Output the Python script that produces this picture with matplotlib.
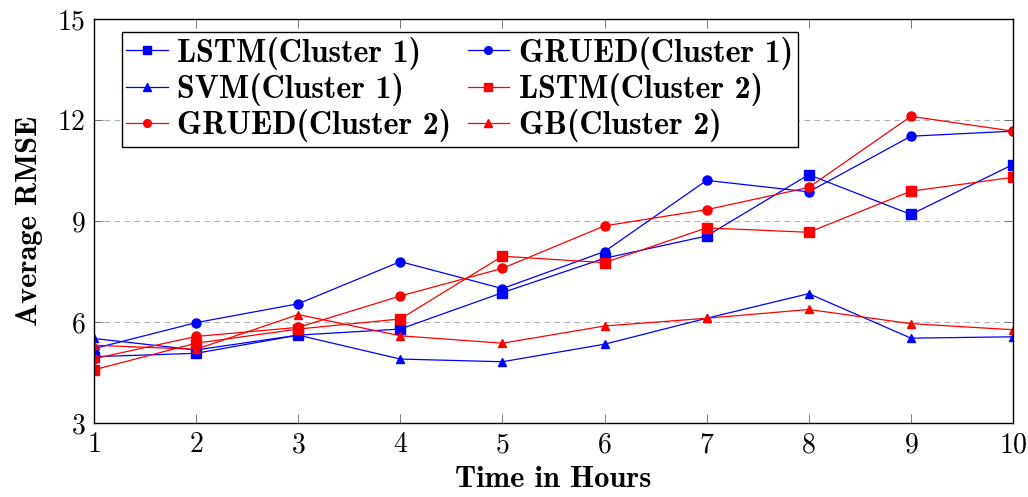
import matplotlib
matplotlib.use("Agg")
import matplotlib.pyplot as plt

plt.rcParams['axes.formatter.use_mathtext'] = True

hours = [1, 2, 3, 4, 5, 6, 7, 8, 9, 10]

lstm_c1 = [4.98, 5.08, 5.62, 5.80, 6.88, 7.90, 8.56, 10.38, 9.20, 10.68]
grued_c1 = [5.22, 5.99, 6.55, 7.80, 7.00, 8.10, 10.21, 9.87, 11.52, 11.67]
svm_c1 = [5.52, 5.18, 5.62, 4.91, 4.83, 5.35, 6.12, 6.85, 5.53, 5.57]
lstm_c2 = [4.59, 5.38, 5.80, 6.10, 7.96, 7.77, 8.80, 8.67, 9.89, 10.30]
grued_c2 = [4.92, 5.58, 5.85, 6.78, 7.60, 8.86, 9.34, 10.00, 12.11, 11.67]
gb_c2 = [5.32, 5.20, 6.23, 5.60, 5.38, 5.89, 6.12, 6.38, 5.96, 5.78]

y_ticks = [3, 6, 9, 12, 15]

fig = plt.figure(figsize=(10.28, 4.97), dpi=100)
ax = fig.add_axes([0.0914, 0.148, 0.894, 0.814])

# series: (values, label, colour, marker, size)
series = [
    (lstm_c1, 'LSTM(Cluster 1)', 'blue', 's', 6.5),
    (grued_c1, 'GRUED(Cluster 1)', 'blue', 'o', 6.5),
    (svm_c1, 'SVM(Cluster 1)', 'blue', '^', 6),
    (lstm_c2, 'LSTM(Cluster 2)', 'red', 's', 6.5),
    (grued_c2, 'GRUED(Cluster 2)', 'red', 'o', 6.5),
    (gb_c2, 'GB(Cluster 2)', 'red', '^', 6),
]
handles = []
for vals, lab, col, mk, ms in series:
    h, = ax.plot(hours, vals, color=col, marker=mk, markersize=ms,
                 linewidth=0.9, label=lab)
    handles.append(h)

ax.set_xlim(1, 10)
ax.set_ylim(3, 15)
ax.set_xticks(hours)
ax.set_yticks(y_ticks)
for yv in y_ticks[1:-1]:
    ax.axhline(yv, color='#b0b0b0', linestyle=(0, (5, 4)), linewidth=0.8, zorder=0)

ax.tick_params(direction='in', length=6.5, width=0.6, color='#666666',
               top=True, right=True, labelsize=20, pad=6)
for lbl in ax.get_xticklabels() + ax.get_yticklabels():
    lbl.set_fontfamily('cmr10')
for sp in ax.spines.values():
    sp.set_linewidth(1.0)

ax.set_xlabel('Time in Hours', fontfamily='cmb10', fontsize=22, labelpad=6)
ax.set_ylabel('Average RMSE', fontfamily='cmb10', fontsize=22, labelpad=10)

# legend reads row-wise, matplotlib fills column-wise
order = [0, 2, 4, 1, 3, 5]
leg = ax.legend([handles[i] for i in order], [series[i][1] for i in order],
                ncol=2, loc='upper left', bbox_to_anchor=(0.03, 0.968),
                borderaxespad=0, fancybox=False, edgecolor='black',
                framealpha=1, prop={'family': 'cmb10', 'size': 23},
                handlelength=1.3, handletextpad=0.3, columnspacing=0.5,
                labelspacing=0.1, borderpad=0.15, markerscale=0.85)
leg.get_frame().set_linewidth(1.0)

fig.savefig('out.png', dpi=100)
